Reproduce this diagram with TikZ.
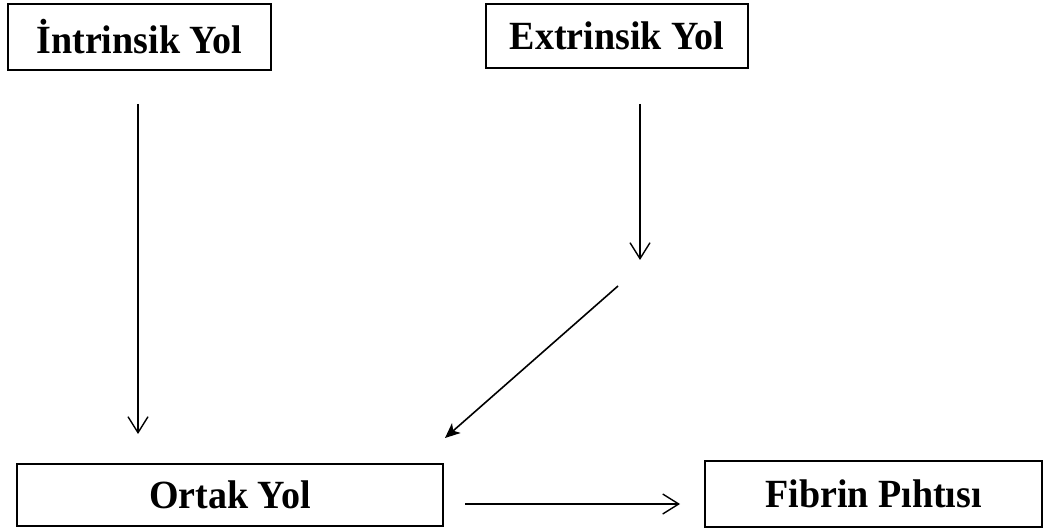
\documentclass[tikz,border=0pt]{standalone}
\usepackage{fontspec}
\setmainfont{Liberation Serif}
\newfontfamily\boxfont[FakeStretch=0.95]{Liberation Serif}
\usetikzlibrary{arrows.meta}
\begin{document}
\begin{tikzpicture}[x=1pt,y=-1pt,
  box/.style={draw=black,line width=1.8pt,inner sep=0pt,font=\boxfont\fontsize{40}{46}\selectfont\bfseries},
  conn/.style={line width=1.4pt,-{Straight Barb[length=16pt,width=20pt,line width=1.4pt]}},
  diag/.style={line width=1.6pt,-{Stealth[length=15pt,width=13pt,inset=4pt]}}]
\useasboundingbox (0,0) rectangle (1047,529);
\node[box,minimum width=263pt,minimum height=66pt] (intr) at (139.5,37) {İntrinsik Yol};
\node[box,minimum width=262pt,minimum height=64pt] (extr) at (617,36) {Extrinsik Yol};
\node[box,minimum width=426pt,minimum height=62pt] (ortak) at (230,495) {Ortak Yol};
\node[box,minimum width=337pt,minimum height=66pt] (fib) at (873.5,494) {Fibrin Pıhtısı};
\coordinate (i1) at (138,104);
\coordinate (i2) at (138,434);
\coordinate (e1) at (640,104);
\coordinate (e2) at (640,260);
\coordinate (d1) at (618,286);
\coordinate (d2) at (445,438);
\coordinate (h1) at (465,504);
\coordinate (h2) at (680,504);
\draw[conn] (i1) -- (i2);
\draw[conn] (e1) -- (e2);
\draw[diag] (d1) -- (d2);
\draw[conn] (h1) -- (h2);
\end{tikzpicture}
\end{document}
